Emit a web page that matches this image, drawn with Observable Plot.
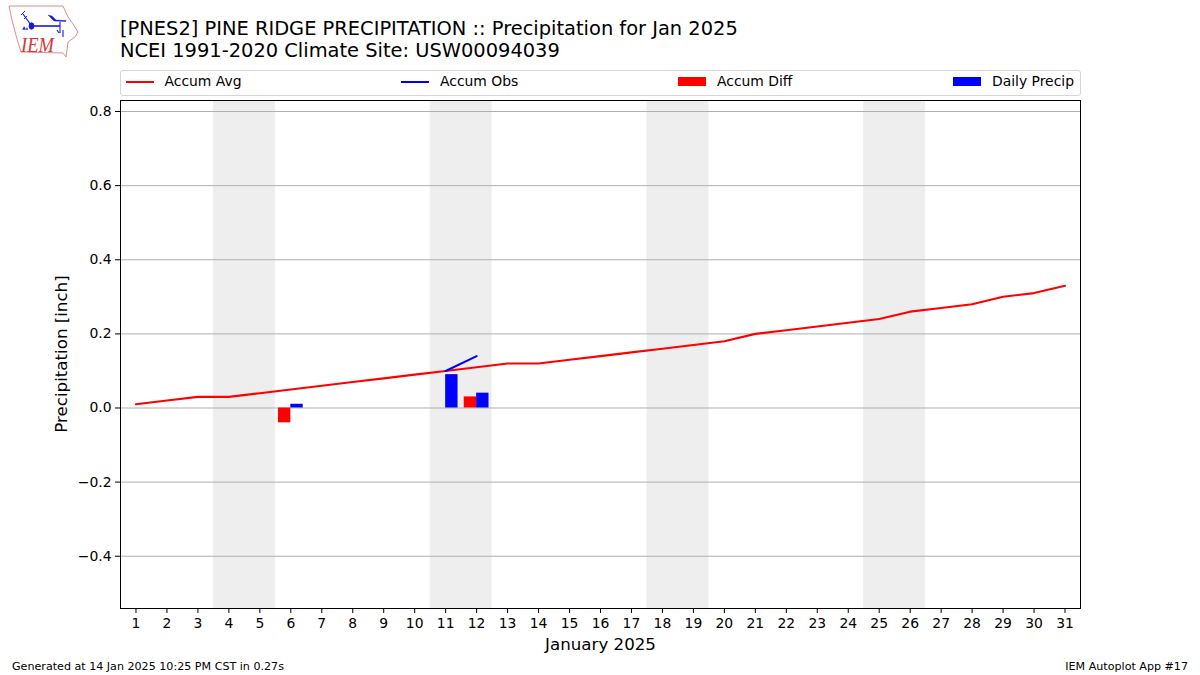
<!DOCTYPE html>
<html><head><meta charset="utf-8">
<script src="https://cdn.jsdelivr.net/npm/d3@7"></script>
<script src="https://cdn.jsdelivr.net/npm/@observablehq/plot@0.6"></script>
<style>
html,body{margin:0;padding:0;background:#fff;overflow:hidden}
body{position:relative;width:1200px;height:675px;font-family:"DejaVu Sans",sans-serif;color:#000}
#chart{position:absolute;left:0;top:0}
#chart svg{display:block;background:#fff}
.t{position:absolute;white-space:nowrap}
#title{left:120px;top:18px;font-size:19.43px;line-height:22.4px}
#legend{position:absolute;left:120px;top:70px;width:959px;height:24px;border:1px solid #d5d5d5;border-radius:3px;background:#fff;font-size:13.9px}
.li{position:absolute;top:0;height:24px;line-height:21px;white-space:nowrap}
.sw{position:absolute;left:0}
.line{top:10px;width:28px;height:2px}
.box{top:6px;width:28px;height:9px}
.li span{position:absolute;left:39px;top:0}
#foot1{left:12px;top:660px;font-size:11.12px}
#foot2{right:12px;top:660px;font-size:11.12px}
#logo{position:absolute;left:0;top:0}
</style></head><body>
<div id="chart"></div>
<div class="t" id="title">[PNES2] PINE RIDGE PRECIPITATION :: Precipitation for Jan 2025<br>NCEI 1991-2020 Climate Site: USW00094039</div>
<div id="legend"></div>
<svg id="logo" width="90" height="65" viewBox="0 0 90 65">
<path d="M9 6 L63 6 L68 17 L73 24 L78 32 L75 37 L68 42 L67 50 L66 57 L63 53 L21 52 L17 39 L12 20 Z" fill="#fff" stroke="#e58a8a" stroke-width="1"/>
<g stroke="#1818d8" fill="#1818d8">
<path d="M32 26 L60 26" stroke-width="1.6"/><path d="M31 25 L23 14" stroke-width="1.2" fill="none"/><path d="M21 15 L25 11 M24 19 L27 16" stroke-width="1" fill="none"/>
<ellipse cx="31.5" cy="26" rx="2.4" ry="3.2"/><path d="M48 15 L52 16 L56 20 L66 20.5 L66 21.5 L54 21 Z" stroke-width=".4"/>
<path d="M60 22 L60 33 M63 30 L63 37 M57 30 L59 33" stroke-width="1.1" fill="none"/><path d="M22.5 29.5 l1.6 -3 l1.6 3 z M26 29.5 l1 -2 l1 2 z" stroke-width=".3"/>
</g>
<text x="21" y="52" font-family="Liberation Serif" font-style="italic" font-size="21.5" fill="#d8323c" textLength="33" lengthAdjust="spacingAndGlyphs">IEM</text>
</svg>
<div class="t" id="foot1">Generated at 14 Jan 2025 10:25 PM CST in 0.27s</div>
<div class="t" id="foot2">IEM Autoplot App #17</div>
<script>
const days = d3.range(1, 32);
const accumAvg = [0.01,0.02,0.03,0.03,0.04,0.05,0.06,0.07,0.08,0.09,0.10,0.11,0.12,0.12,0.13,0.14,0.15,0.16,0.17,0.18,0.20,0.21,0.22,0.23,0.24,0.26,0.27,0.28,0.30,0.31,0.33];
const obsDays = [11, 12];
const accumObs = [0.10, 0.14];
const diffDays = [6, 12];
const accumDiff = [-0.04, 0.03];
const precipDays = [6, 11, 12];
const dailyPrecip = [0.01, 0.09, 0.04];
const weekendStart = [4, 11, 18, 25];
const yTicks = [-0.4,-0.2,0,0.2,0.4,0.6,0.8];
const barWidth = 0.4;

const avgRows = days.map((d,i)=>({d, v:accumAvg[i]}));
const obsRows = obsDays.map((d,i)=>({d, v:accumObs[i]}));
const diffRows = diffDays.map((d,i)=>({d, v:accumDiff[i]}));
const precipRows = precipDays.map((d,i)=>({d, v:dailyPrecip[i]}));
const fmtY = v => d3.format(".1f")(v).replace("-", "\u2212");

const plot = Plot.plot({
  width: 1200, height: 675,
  marginLeft: 120, marginRight: 120, marginTop: 100, marginBottom: 67,
  style: {fontFamily: '"DejaVu Sans", sans-serif', fontSize: "13.9px", color: "#000", background: "#fff"},
  x: {domain: [0.5, 31.5], type: "linear"},
  y: {domain: [-0.541, 0.8297], type: "linear"},
  marks: [
    Plot.rect(weekendStart, {x1: d=>d-0.5, x2: d=>d+1.5, fill: "#eeeeee"}),
    Plot.ruleY(yTicks, {stroke: "#b0b0b0", strokeWidth: 1}),
    Plot.rect(diffRows, {x1: d=>d.d-barWidth, x2: d=>d.d, y1: 0, y2: d=>d.v, fill: "#ff0000"}),
    Plot.rect(precipRows, {x1: d=>d.d, x2: d=>d.d+barWidth, y1: 0, y2: d=>d.v, fill: "#0000ff"}),
    Plot.line(avgRows, {x: "d", y: "v", stroke: "#ff0000", strokeWidth: 2.08, curve: "linear"}),
    Plot.line(obsRows, {x: "d", y: "v", stroke: "#0000ff", strokeWidth: 2.08, curve: "linear"}),
    Plot.frame({stroke: "#000", strokeWidth: 1}),
    Plot.axisX({ticks: days, tickFormat: d=>String(d), tickSize: 5, tickPadding: 4.5, stroke:"#000", fill:"#000",
      label: "January 2025", labelAnchor: "center", labelOffset: 41, labelArrow: "none", fontSize: 13.9}),
    Plot.axisY({ticks: yTicks, tickFormat: fmtY, tickSize: 5, tickPadding: 4, stroke:"#000", fill:"#000",
      label: null, fontSize: 13.9})
  ]
});
document.getElementById("chart").append(plot);
const svg = d3.select(plot);
svg.selectAll("g[aria-label='x-axis label'] text").style("font-size","16.67px");
svg.append("text").attr("transform","translate(62,354) rotate(-90)").attr("text-anchor","middle")
  .attr("dy","0.32em").style("font-size","16.67px").attr("fill","#000").text("Precipitation [inch]");

const legendItems = [
  {label:"Accum Avg", color:"#ff0000", kind:"line", x:4.5},
  {label:"Accum Obs", color:"#0000ff", kind:"line", x:280},
  {label:"Accum Diff", color:"#ff0000", kind:"box", x:557},
  {label:"Daily Precip", color:"#0000ff", kind:"box", x:832}
];
const lg = document.getElementById("legend");
legendItems.forEach(it=>{
  const e=document.createElement("div"); e.className="li"; e.style.left=it.x+"px";
  e.innerHTML=`<div class="sw ${it.kind}" style="background:${it.color}"></div><span>${it.label}</span>`;
  lg.append(e);
});
</script>
</body></html>
